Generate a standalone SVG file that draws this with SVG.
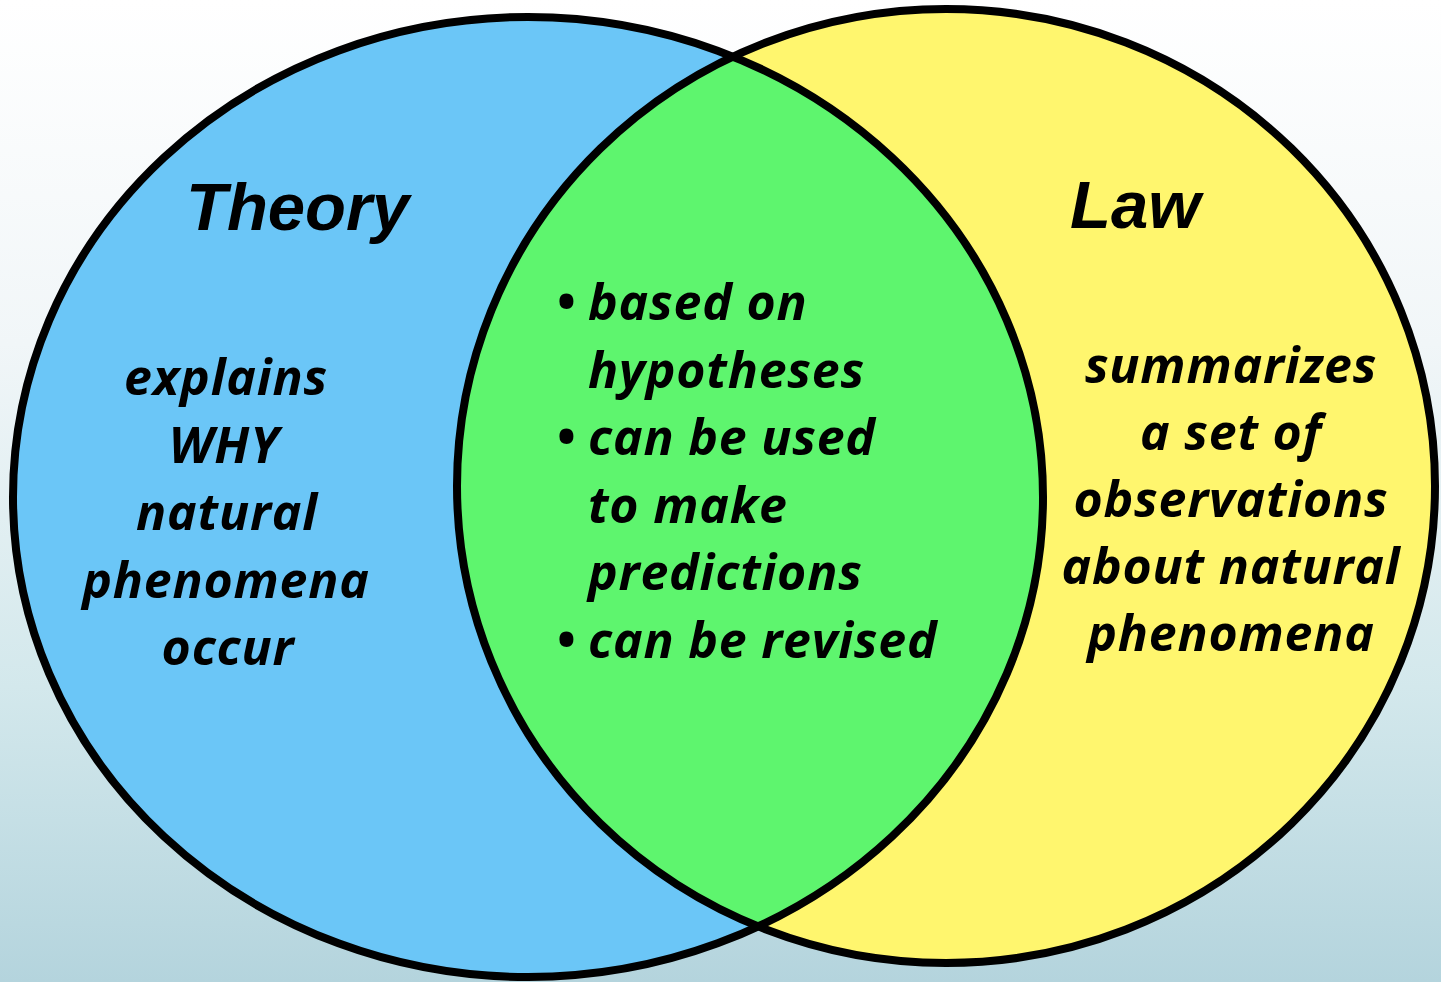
<svg xmlns="http://www.w3.org/2000/svg" width="1441" height="982" viewBox="0 0 1441 982">
  <defs>
    <linearGradient id="bg" x1="0" y1="0" x2="0" y2="1">
      <stop offset="0" stop-color="#ffffff"/>
      <stop offset="0.35" stop-color="#f1f6f8"/>
      <stop offset="0.7" stop-color="#d3e8ec"/>
      <stop offset="1" stop-color="#b4d4dd"/>
    </linearGradient>
    <clipPath id="leftClip">
      <ellipse cx="528" cy="497" rx="515" ry="480"/>
    </clipPath>
    <style>
      .ring { fill: none; stroke: #000; stroke-width: 8; }
      .title { font-family: "Liberation Sans", Arial, sans-serif; font-weight: 700; font-style: italic; font-size: 67px; fill: #000; }
      .body { font-family: "Open Sans", "Noto Sans", sans-serif; font-weight: 700; font-style: italic; font-size: 50px; letter-spacing: 0.8px; fill: #000; }
      .c { text-anchor: middle; }
    </style>
  </defs>
  <rect x="0" y="0" width="1441" height="982" fill="url(#bg)"/>

  <g id="theory">
    <ellipse cx="528" cy="497" rx="515" ry="480" fill="#6bc6f7"/>
  </g>
  <g id="law">
    <ellipse cx="946" cy="486" rx="489" ry="477" fill="#fff66e"/>
  </g>
  <g id="overlap">
    <ellipse cx="946" cy="486" rx="489" ry="477" fill="#5ef56e" clip-path="url(#leftClip)"/>
  </g>
  <g id="outlines">
    <ellipse class="ring" cx="528" cy="497" rx="515" ry="480"/>
    <ellipse class="ring" cx="946" cy="486" rx="489" ry="477"/>
  </g>

  <g id="theory-text">
    <text class="title" x="186" y="230">Theory</text>
    <text class="body c" x="226" y="395">explains</text>
    <text class="body c" x="224" y="462.5">WHY</text>
    <text class="body c" x="227" y="530">natural</text>
    <text class="body c" x="226" y="597.5">phenomena</text>
    <text class="body c" x="228" y="665">occur</text>
  </g>

  <g id="law-text">
    <text class="title" x="1070" y="228">Law</text>
    <text class="body c" x="1231" y="383">summarizes</text>
    <text class="body c" x="1231" y="450">a set of</text>
    <text class="body c" x="1231" y="517">observations</text>
    <text class="body c" x="1231" y="584">about natural</text>
    <text class="body c" x="1231" y="651">phenomena</text>
  </g>

  <g id="overlap-text">
    <text class="body" x="556" y="320">•</text>
    <text class="body" x="588" y="320">based on</text>
    <text class="body" x="588" y="387.5">hypotheses</text>
    <text class="body" x="556" y="455">•</text>
    <text class="body" x="588" y="455">can be used</text>
    <text class="body" x="588" y="522.5">to make</text>
    <text class="body" x="588" y="590">predictions</text>
    <text class="body" x="556" y="657.5">•</text>
    <text class="body" x="588" y="657.5">can be revised</text>
  </g>
</svg>
